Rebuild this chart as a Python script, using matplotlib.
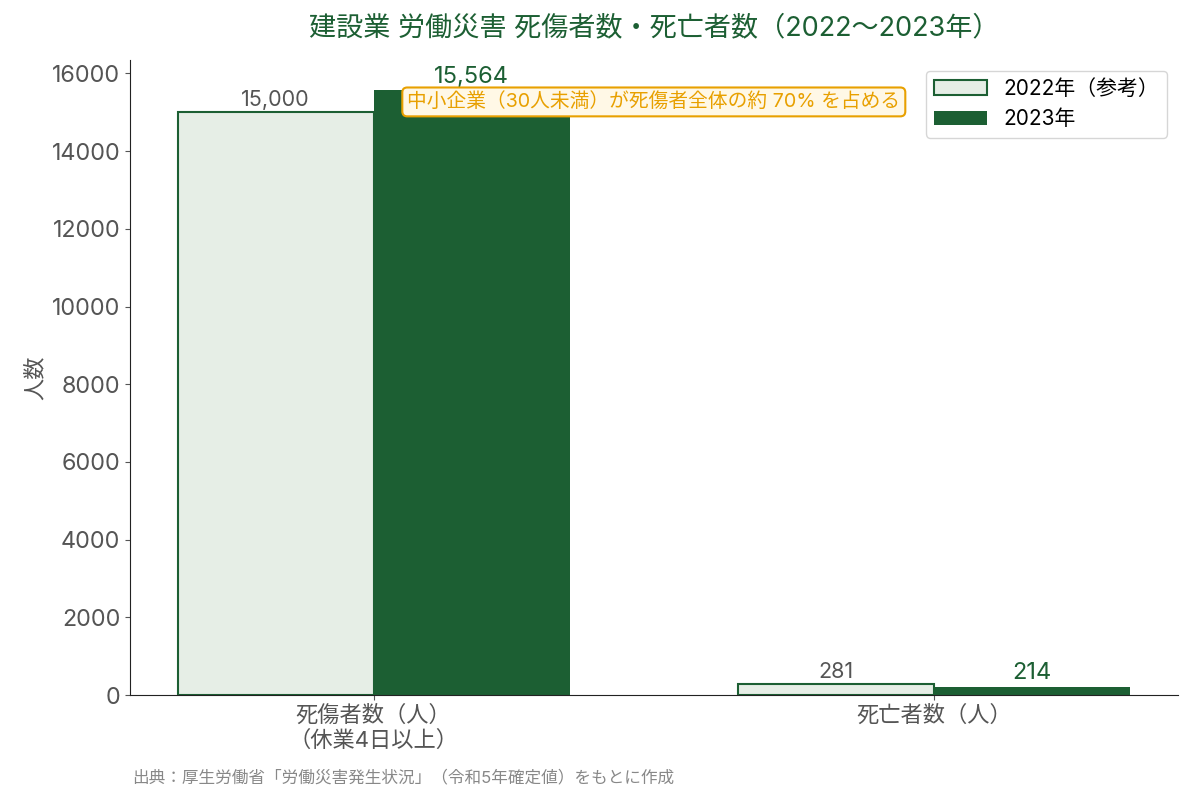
import numpy as np
import matplotlib
matplotlib.use("Agg")
from matplotlib import pyplot as plt

plt.rcParams['font.family'] = ['Inter', 'Noto Sans CJK JP', 'DejaVu Sans']

categories = ["死傷者数（人）\n（休業4日以上）", "死亡者数（人）"]
series_names = ["2022年（参考）", "2023年"]
values_2022 = [15000, 281]
values_2023 = [15564, 214]

dark = "#1c5f33"
light = "#e6eee6"
orange = "#e8a000"
gray = "#555555"

fig = plt.figure(figsize=(11.92, 8.02), dpi=100)
ax = fig.add_axes([0.109, 0.1334, 0.879, 0.7916])

x = np.arange(len(categories))
w = 0.35
b1 = ax.bar(x - w/2, values_2022, w, color=light, edgecolor=dark, linewidth=1.5, label=series_names[0])
b2 = ax.bar(x + w/2, values_2023, w, color=dark, edgecolor=dark, linewidth=0, label=series_names[1])

for r, v in zip(b1, values_2022):
    ax.text(r.get_x() + r.get_width()/2, v + 60, f"{v:,}", ha="center", va="bottom",
            fontsize=15.5, color=gray)
for r, v in zip(b2, values_2023):
    ax.text(r.get_x() + r.get_width()/2, v + 60, f"{v:,}", ha="center", va="bottom",
            fontsize=17, color=dark)

ax.set_ylim(0, max(values_2023) * 1.05)
ax.set_xticks(x)
ax.set_xticklabels(categories, fontsize=16, color=gray)
ax.tick_params(axis="y", labelsize=16.8, labelcolor=gray)
ax.tick_params(axis="both", color=gray)
ax.set_ylabel("人数", fontsize=16, color=gray)

ax.spines["top"].set_visible(False)
ax.spines["right"].set_visible(False)
ax.spines["left"].set_color("#222222")
ax.spines["bottom"].set_color("#222222")

ax.text(0.5, 15267, "中小企業（30人未満）が死傷者全体の約 70% を占める", ha="center", va="center",
        fontsize=14.2, color=orange,
        bbox=dict(boxstyle="round,pad=0.25", facecolor="#fff8e6", edgecolor=orange, linewidth=1.5))

ax.legend(loc="upper right", fontsize=15, frameon=True, edgecolor="#cccccc",
          handlelength=2.5, borderpad=0.4, borderaxespad=0.5)

ax.set_title("建設業 労働災害 死傷者数・死亡者数（2022〜2023年）", fontsize=19.5, color=dark, pad=18)
fig.text(0.111, 0.031, "出典：厚生労働省「労働災害発生状況」（令和5年確定値）をもとに作成",
         fontsize=12, color="#888888", va="center")

fig.savefig("out.png", dpi=100)
